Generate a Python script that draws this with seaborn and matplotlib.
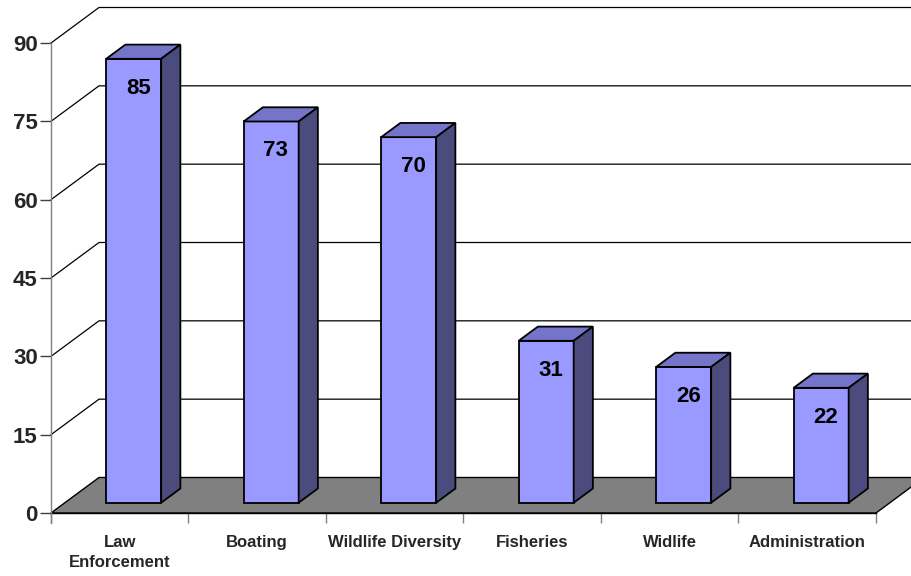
import matplotlib
matplotlib.use("Agg")
import matplotlib.pyplot as plt
import seaborn as sns
import pandas as pd
from matplotlib.patches import Polygon
from matplotlib.lines import Line2D

categories = ["Law\nEnforcement", "Boating", "Wildlife Diversity", "Fisheries", "Widlife", "Administration"]
values = [85, 73, 70, 31, 26, 22]
yticks = [0, 15, 30, 45, 60, 75, 90]

sns.set_theme(style="white")
plt.rcParams["font.family"] = ["Liberation Sans", "DejaVu Sans"]

FRONT = "#9999FF"
TOP = "#7474C8"
SIDE = "#4B4B7E"
FLOOR = "#808080"

fig = plt.figure(figsize=(9.12, 5.76), dpi=100)
ax = fig.add_axes([51 / 912, 63 / 576, 825 / 912, 470 / 576])

df = pd.DataFrame({"cat": categories, "val": values})
sns.barplot(data=df, x="cat", y="val", color=FRONT, width=0.4, saturation=1,
            edgecolor="black", linewidth=1.3, ax=ax, zorder=5)
ax.set_xlim(-0.5, len(categories) - 0.5)
ax.set_ylim(0, 90)

# depth of the 3D box in data units
DX = 48 / (825 / 6)
DY = 35.5 / (470 / 90)
b0, b1 = 0.29, 0.40  # bar start depth fraction, bar depth fraction

x0, x1 = -0.5, len(categories) - 0.5
# floor
floor = Polygon([(x0, 0), (x1, 0), (x1 + DX, DY), (x0 + DX, DY)], closed=True,
                facecolor=FLOOR, edgecolor="black", linewidth=1.0, clip_on=False, zorder=1)
ax.add_patch(floor)
# gridlines on left wall and back wall
for v in yticks[1:]:
    ax.add_line(Line2D([x0, x0 + DX, x1 + DX + 1], [v, v + DY, v + DY],
                       color="black", linewidth=0.9, clip_on=False, zorder=0.5))

# bars: shift into depth and add top/side faces
for p, v in zip(ax.patches, values):
    p.set_x(p.get_x() + b0 * DX)
    p.set_y(b0 * DY)
    p.set_clip_on(False)
    bx, by, bw, bh = p.get_x(), p.get_y(), p.get_width(), p.get_height()
    ddx, ddy = b1 * DX, b1 * DY
    top = Polygon([(bx, by + bh), (bx + bw, by + bh), (bx + bw + ddx, by + bh + ddy), (bx + ddx, by + bh + ddy)],
                  closed=True, facecolor=TOP, edgecolor="black", linewidth=1.3, clip_on=False, zorder=5)
    side = Polygon([(bx + bw, by), (bx + bw, by + bh), (bx + bw + ddx, by + bh + ddy), (bx + bw + ddx, by + ddy)],
                   closed=True, facecolor=SIDE, edgecolor="black", linewidth=1.3, clip_on=False, zorder=5)
    ax.add_patch(top)
    ax.add_patch(side)
    ax.annotate(f"{v}", xy=(bx + bw / 2, by + bh), xytext=(4.5, -29.5), textcoords="offset pixels",
                ha="center", va="center", fontsize=16, fontweight="bold", color="black", zorder=6)

ax.set_xlabel("")
ax.set_ylabel("")
ax.set_yticks(yticks)
ax.set_yticklabels([str(t) for t in yticks], fontsize=16, fontweight="bold")
ax.tick_params(axis="y", length=8, width=1, color="#404040", pad=1.5, left=True)
ax.set_xticks(range(len(categories)))
ax.set_xticklabels(categories, fontsize=12, fontweight="bold", linespacing=1.45)
ax.set_xticks([i - 0.5 for i in range(len(categories) + 1)], minor=True)
ax.tick_params(axis="x", which="major", length=0, pad=15.5)
ax.tick_params(axis="x", which="minor", length=7.2, width=1, color="#808080", bottom=True)

for s in ["top", "right"]:
    ax.spines[s].set_visible(False)
ax.spines["left"].set_color("#808080")
ax.spines["left"].set_linewidth(1)
ax.spines["left"].set_bounds(-2, 90)
ax.spines["bottom"].set_color("black")
ax.spines["bottom"].set_linewidth(1)
ax.spines["bottom"].set_zorder(2)
ax.set_facecolor("none")
ax.grid(False)

fig.savefig("out.png", dpi=100, facecolor="white")
